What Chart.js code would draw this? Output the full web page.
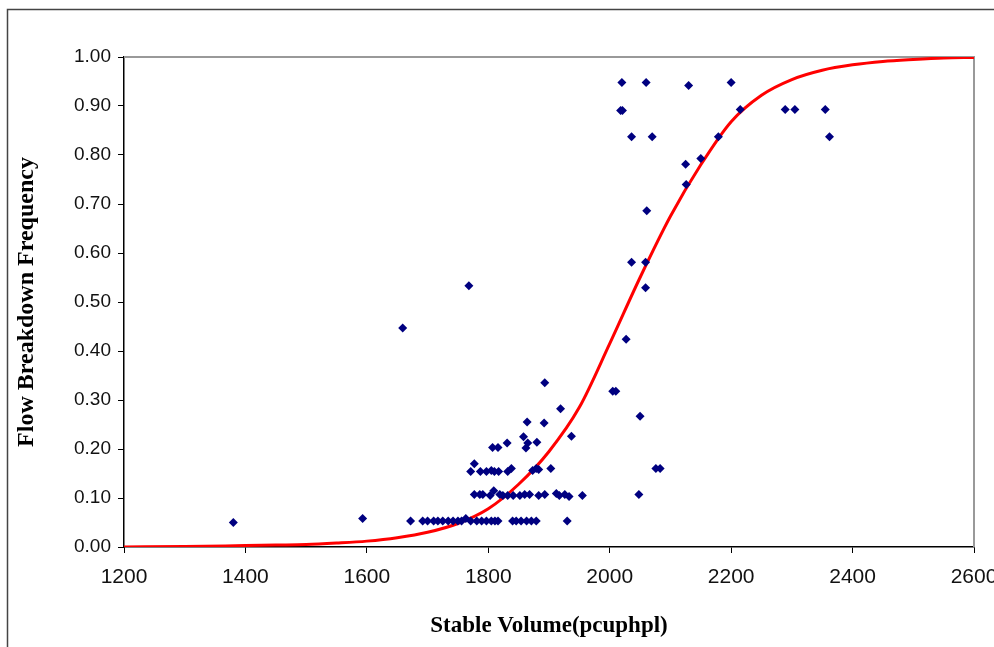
<!DOCTYPE html>
<html>
<head>
<meta charset="utf-8">
<script src="https://cdn.jsdelivr.net/npm/chart.js@4/dist/chart.umd.min.js"></script>
<style>
  html, body { margin: 0; padding: 0; background: #fff; overflow: hidden; }
  #wrap { position: relative; width: 994px; height: 647px; overflow: hidden; }
  canvas { position: absolute; left: 0; top: 0; }
</style>
</head>
<body>
<div id="wrap"><canvas id="chart" width="1040" height="647"></canvas></div>
<script>
// Observed breakdown frequencies against stable volume
const volumeX = [
    1380, 1593, 1672, 1692, 1700, 1710, 1717, 1725, 1734, 1742, 1750, 1756, 1763, 1771, 1781, 1789, 1797, 1805, 1811, 1816,
    1840, 1846, 1854, 1863, 1871, 1879, 1930,
    1777, 1786, 1791, 1803, 1809, 1819, 1824, 1832, 1841, 1852, 1860, 1868, 1883, 1893, 1912, 1917, 1926, 1933, 1955, 2048,
    1771, 1787, 1797, 1805, 1810, 1817, 1832, 1838, 1873, 1879, 1883, 1903, 2076, 2083, 1777,
    1807, 1816, 1831, 1862, 1865, 1880, 1858, 1937,
    1864, 1892, 2050, 1919, 2005, 2010, 1893, 2027, 1659, 2059, 1768,
    2036, 2059, 2061, 2126, 2125, 2150,
    2036, 2070, 2179, 2362,
    2018, 2021, 2215, 2289, 2305, 2355,
    2020, 2060, 2130, 2200
];
const freqY = [
    0.050, 0.058, 0.053, 0.053, 0.053, 0.053, 0.053, 0.053, 0.053, 0.053, 0.053, 0.053, 0.058, 0.053, 0.053, 0.053, 0.053, 0.053, 0.053, 0.053,
    0.053, 0.053, 0.053, 0.053, 0.053, 0.053, 0.053,
    0.107, 0.107, 0.107, 0.105, 0.115, 0.107, 0.105, 0.105, 0.105, 0.105, 0.107, 0.107, 0.105, 0.107, 0.109, 0.105, 0.107, 0.103, 0.105, 0.107,
    0.154, 0.154, 0.154, 0.156, 0.154, 0.154, 0.154, 0.160, 0.156, 0.160, 0.158, 0.160, 0.160, 0.160, 0.170,
    0.203, 0.203, 0.212, 0.202, 0.212, 0.214, 0.225, 0.226,
    0.255, 0.253, 0.267, 0.282, 0.318, 0.318, 0.335, 0.424, 0.447, 0.529, 0.533,
    0.581, 0.581, 0.686, 0.740, 0.781, 0.793,
    0.837, 0.837, 0.837, 0.837,
    0.891, 0.891, 0.893, 0.893, 0.893, 0.893,
    0.948, 0.948, 0.942, 0.948
];

// Fitted curve
const curveX = [1200, 1300, 1400, 1450, 1500, 1550, 1600, 1650, 1700, 1750, 1800, 1850, 1900, 1950, 2000,
    2050, 2100, 2150, 2200, 2250, 2300, 2350, 2400, 2450, 2500, 2550, 2600];
const curveY = [0.000, 0.001, 0.003, 0.004, 0.005, 0.008, 0.012, 0.019, 0.030, 0.048, 0.078, 0.128, 0.195, 0.285, 0.415,
    0.550, 0.675, 0.780, 0.868, 0.922, 0.954, 0.973, 0.984, 0.991, 0.995, 0.998, 0.999];

const xTicks = [1200, 1400, 1600, 1800, 2000, 2200, 2400, 2600];

const scatterPts = volumeX.map((x, i) => ({ x: x, y: freqY[i] }));
const curvePts = curveX.map((x, i) => ({ x: x, y: curveY[i] }));

// outer frame + grey top/right edges of the plot area
const framePlugin = {
    id: 'frame',
    beforeDraw(chart) {
        const ctx = chart.ctx;
        ctx.save();
        ctx.fillStyle = '#fff';
        ctx.fillRect(0, 0, chart.width, chart.height);
        ctx.strokeStyle = '#444';
        ctx.lineWidth = 1.5;
        ctx.strokeRect(7.5, 9.5, chart.width + 20, chart.height + 20);
        ctx.restore();
    },
    beforeDatasetsDraw(chart) {
        const { ctx, chartArea: a } = chart;
        ctx.save();
        ctx.strokeStyle = '#999';
        ctx.lineWidth = 2;
        ctx.beginPath();
        ctx.moveTo(a.left, a.top);
        ctx.lineTo(a.right, a.top);
        ctx.lineTo(a.right, a.bottom);
        ctx.stroke();
        ctx.restore();
    }
};

new Chart(document.getElementById('chart'), {
    type: 'scatter',
    data: {
        datasets: [
            {
                label: 'Observed',
                data: scatterPts,
                pointStyle: 'rectRot',
                pointRadius: 4.5,
                pointBorderWidth: 0,
                backgroundColor: '#000080',
                borderColor: '#000080'
            },
            {
                label: 'Fitted',
                type: 'line',
                data: curvePts,
                showLine: true,
                borderColor: '#ff0000',
                borderWidth: 3,
                pointRadius: 0,
                cubicInterpolationMode: 'monotone',
                fill: false
            }
        ]
    },
    options: {
        responsive: false,
        animation: false,
        layout: { padding: { left: 4, top: 57, right: 66, bottom: 0 } },
        plugins: {
            legend: { display: false },
            tooltip: { enabled: false }
        },
        scales: {
            x: {
                type: 'linear',
                min: 1200,
                max: 2600,
                afterBuildTicks: (scale) => { scale.ticks = xTicks.map(v => ({ value: v })); },
                afterFit: (scale) => { scale.height = 100; },
                ticks: {
                    color: '#111',
                    font: { family: 'Liberation Sans', size: 21 },
                    padding: 12,
                    maxRotation: 0,
                    callback: (v) => String(v)
                },
                grid: { drawOnChartArea: false, drawTicks: true, tickLength: 6, color: '#000' },
                border: { color: '#000', width: 1.5 },
                title: {
                    display: true,
                    text: 'Stable Volume(pcuphpl)',
                    color: '#000',
                    font: { family: 'Liberation Serif', size: 23, weight: 'bold' },
                    padding: { top: 0, bottom: 7 }
                }
            },
            y: {
                min: 0,
                max: 1,
                afterFit: (scale) => { scale.width = 120; },
                ticks: {
                    stepSize: 0.1,
                    color: '#111',
                    font: { family: 'Liberation Sans', size: 19 },
                    padding: 7,
                    callback: (v) => v.toFixed(2)
                },
                grid: { drawOnChartArea: false, drawTicks: true, tickLength: 6, color: '#000' },
                border: { color: '#000', width: 1.5 },
                title: {
                    display: true,
                    text: 'Flow Breakdown Frequency',
                    color: '#000',
                    font: { family: 'Liberation Serif', size: 24, weight: 'bold' },
                    padding: { top: 8, bottom: 0 }
                }
            }
        }
    },
    plugins: [framePlugin]
});
</script>
</body>
</html>
